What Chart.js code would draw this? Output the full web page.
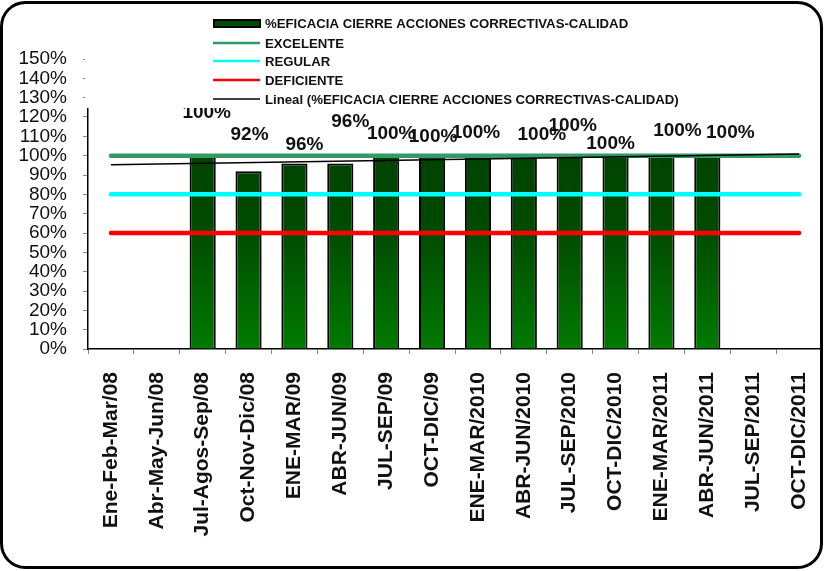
<!DOCTYPE html>
<html>
<head>
<meta charset="utf-8">
<script src="https://cdn.jsdelivr.net/npm/chart.js@4/dist/chart.umd.min.js"></script>
<style>
    body { margin: 0; background: #fff; }
    canvas { display: block; }
</style>
</head>
<body>
<canvas id="myChart" width="825" height="571"></canvas>
<script>
const periodos = [
    'Ene-Feb-Mar/08', 'Abr-May-Jun/08', 'Jul-Agos-Sep/08', 'Oct-Nov-Dic/08',
    'ENE-MAR/09', 'ABR-JUN/09', 'JUL-SEP/09', 'OCT-DIC/09',
    'ENE-MAR/2010', 'ABR-JUN/2010', 'JUL-SEP/2010', 'OCT-DIC/2010',
    'ENE-MAR/2011', 'ABR-JUN/2011', 'JUL-SEP/2011', 'OCT-DIC/2011'
]
const eficacia = [null, null, 100, 92, 96, 96, 100, 100, 100, 100, 100, 100, 100, 100, null, null]
const excelente = [100, 100, 100, 100, 100, 100, 100, 100, 100, 100, 100, 100, 100, 100, 100, 100]
const regular = [80, 80, 80, 80, 80, 80, 80, 80, 80, 80, 80, 80, 80, 80, 80, 80]
const deficiente = [60, 60, 60, 60, 60, 60, 60, 60, 60, 60, 60, 60, 60, 60, 60, 60]
// tendencia lineal (extremos)
const lineal = [95.3, null, null, null, null, null, null, null, null, null, null, null, null, null, null, 100.9]

const nombres = [
    '%EFICACIA CIERRE ACCIONES CORRECTIVAS-CALIDAD',
    'EXCELENTE',
    'REGULAR',
    'DEFICIENTE',
    'Lineal (%EFICACIA CIERRE ACCIONES CORRECTIVAS-CALIDAD)'
]

// desplazamiento de cada etiqueta respecto al tope de la barra [dx, dy]
const labelShift = [
    [0, 0], [0, 0], [4, -43], [1, -36], [10, -19], [10, -42], [5, -22], [1, -19],
    [-2, -23], [18, -21], [3, -30], [-5, -12], [16, -25], [23, -23], [0, 0], [0, 0]
]

function barFill(ctx) {
    const chart = ctx.chart;
    const area = chart.chartArea;
    if (!area) return '#005500';
    const top = chart.scales.y.getPixelForValue(100);
    const g = chart.ctx.createLinearGradient(0, top, 0, area.bottom);
    g.addColorStop(0, '#004300');
    g.addColorStop(0.4, '#004c00');
    g.addColorStop(1, '#007a00');
    return g;
}

const valueLabels = {
    id: 'valueLabels',
    afterDatasetsDraw(chart) {
        const ctx = chart.ctx;
        const meta = chart.getDatasetMeta(0);
        ctx.save();
        ctx.font = 'bold 19px "Liberation Sans", Arial, sans-serif';
        ctx.fillStyle = '#111';
        ctx.textAlign = 'center';
        ctx.textBaseline = 'middle';
        meta.data.forEach((bar, i) => {
            const v = eficacia[i];
            if (v == null) return;
            const s = labelShift[i];
            ctx.fillText(v + '%', bar.x + s[0], bar.y + s[1]);
        });
        ctx.restore();
    }
};

const legendBox = {
    id: 'legendBox',
    afterDraw(chart) {
        const ctx = chart.ctx;
        ctx.save();
        ctx.fillStyle = '#fff';
        ctx.fillRect(85, 8, 625, 100);
        const rows = [23, 43, 61, 80, 99];
        ctx.font = 'bold 13.2px "Liberation Sans", Arial, sans-serif';
        ctx.textBaseline = 'middle';
        ctx.textAlign = 'left';
        rows.forEach((y, i) => {
            if (i === 0) {
                ctx.fillStyle = '#004a00';
                ctx.fillRect(214, y - 3, 46, 7);
                ctx.strokeStyle = '#000';
                ctx.lineWidth = 2;
                ctx.strokeRect(214, y - 3, 46, 7);
            } else {
                const ds = chart.data.datasets[i];
                ctx.strokeStyle = ds.borderColor;
                ctx.lineWidth = i === 4 ? 1.5 : 2.5;
                ctx.beginPath();
                ctx.moveTo(213, y);
                ctx.lineTo(260, y);
                ctx.stroke();
            }
            ctx.fillStyle = '#111';
            ctx.fillText(nombres[i], 265, y + 1);
        });
        // marco redondeado
        ctx.strokeStyle = '#000';
        ctx.lineWidth = 3;
        ctx.beginPath();
        ctx.roundRect(1.5, 2.5, 820, 565, 24);
        ctx.stroke();
        ctx.restore();
    }
};

const canvas = document.getElementById('myChart');
const chart = new Chart(canvas, {
    type: 'bar',
    data: {
        labels: periodos,
        datasets: [
            {
                label: nombres[0],
                data: eficacia,
                backgroundColor: barFill,
                borderColor: '#000',
                borderWidth: 2,
                barPercentage: 0.57,
                categoryPercentage: 1,
                order: 10
            },
            {
                type: 'line',
                label: nombres[1],
                data: excelente,
                borderColor: '#339966',
                borderWidth: 4.5,
                borderCapStyle: 'round',
                pointRadius: 0,
                order: 3
            },
            {
                type: 'line',
                label: nombres[2],
                data: regular,
                borderColor: '#00ffff',
                borderWidth: 4.5,
                borderCapStyle: 'round',
                pointRadius: 0,
                order: 4
            },
            {
                type: 'line',
                label: nombres[3],
                data: deficiente,
                borderColor: '#ff0000',
                borderWidth: 4.5,
                borderCapStyle: 'round',
                pointRadius: 0,
                order: 5
            },
            {
                type: 'line',
                label: nombres[4],
                data: lineal,
                borderColor: '#000',
                borderWidth: 1.5,
                pointRadius: 0,
                spanGaps: true,
                order: 1
            }
        ]
    },
    options: {
        responsive: false,
        animation: false,
        layout: { padding: { top: 59, right: 3, left: 0, bottom: 0 } },
        plugins: {
            legend: { display: false },
            tooltip: { enabled: false }
        },
        scales: {
            x: {
                grid: { drawOnChartArea: false, tickLength: 5, color: '#888', offset: true },
                border: { color: '#000', width: 1.5 },
                ticks: {
                    color: '#111',
                    font: { family: '"Liberation Sans", Arial, sans-serif', size: 21, weight: 'bold' },
                    minRotation: 90,
                    maxRotation: 90,
                    autoSkip: false,
                    padding: 18
                },
                afterFit(scale) {
                    scale.height = 222;
                    scale.paddingLeft = 0;
                    scale.paddingRight = 0;
                }
            },
            y: {
                min: 0,
                max: 150,
                grid: { drawOnChartArea: false, tickLength: 5, color: '#888' },
                border: { color: '#000', width: 1.5 },
                ticks: {
                    stepSize: 10,
                    autoSkip: false,
                    color: '#111',
                    padding: 16,
                    font: { family: '"Liberation Sans", Arial, sans-serif', size: 19 },
                    callback: v => v + '%'
                },
                afterFit(scale) { scale.width = 88; }
            }
        }
    },
    plugins: [valueLabels, legendBox]
});
</script>
</body>
</html>
